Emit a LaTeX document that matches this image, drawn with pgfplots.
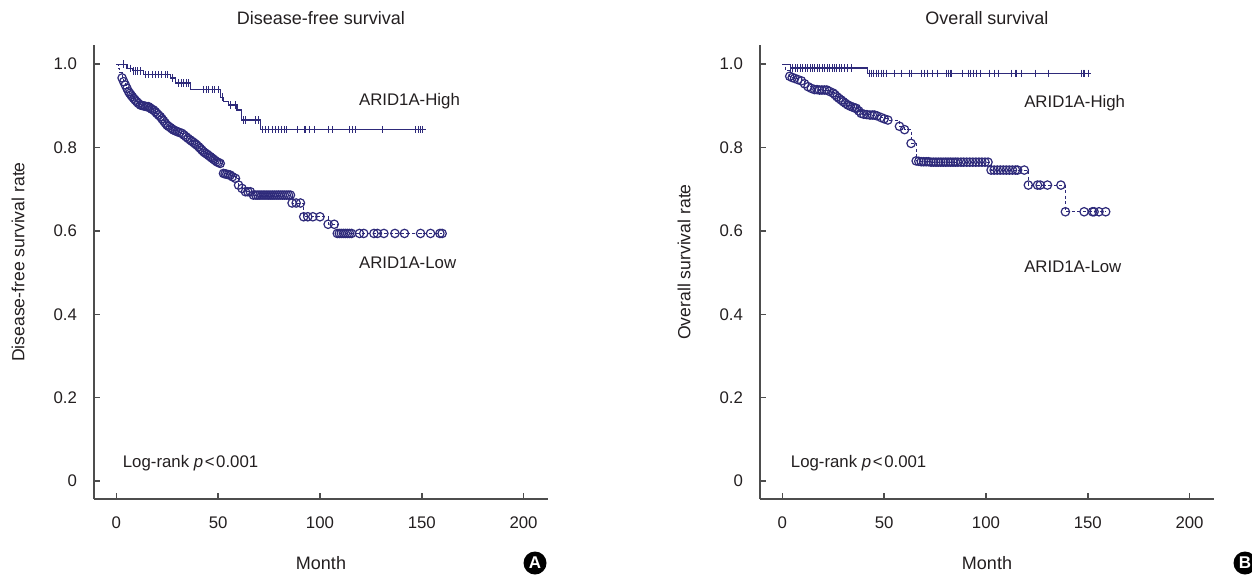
\documentclass[border=0pt]{standalone}
\usepackage{pgfplots}
\pgfplotsset{compat=1.18}
\usepackage{pgfplotstable}
\usepackage{fontspec}
\setmainfont{Liberation Sans}
\definecolor{curve}{RGB}{46,42,122}
\definecolor{axisgray}{RGB}{77,77,77}
\definecolor{txt}{RGB}{35,31,32}

% Panel A, ARID1A-Low (time, survival); rows 0-2 carry no censor mark
\pgfplotstableread{
t s
0 1.000
0.8 0.990
1.6 0.980
2.8 0.967
3.6 0.958
4.4 0.950
5.2 0.942
6.0 0.934
6.6 0.930
7.2 0.926
7.8 0.922
8.5 0.918
9.2 0.914
10.0 0.910
10.8 0.906
11.8 0.902
12.6 0.901
13.4 0.900
14.2 0.899
15.0 0.898
15.8 0.898
16.6 0.895
17.4 0.892
18.3 0.890
19.1 0.886
19.9 0.882
20.7 0.878
21.6 0.874
22.4 0.869
23.2 0.864
24.0 0.859
24.8 0.854
25.6 0.851
26.5 0.848
27.3 0.845
28.1 0.842
29.1 0.840
30.0 0.838
31.1 0.836
32.2 0.834
33.2 0.830
34.2 0.826
35.2 0.822
36.3 0.818
37.1 0.815
38.0 0.812
38.7 0.809
39.5 0.806
40.4 0.802
41.2 0.798
42.0 0.794
42.8 0.790
43.6 0.787
44.5 0.784
45.3 0.781
46.1 0.778
46.9 0.775
47.7 0.772
48.5 0.769
49.3 0.766
50.2 0.764
51.0 0.762
52.6 0.738
53.4 0.737
54.2 0.736
55.0 0.735
55.9 0.734
57.0 0.730
58.5 0.726
60.0 0.710
61.7 0.702
63.4 0.694
64.6 0.694
65.8 0.694
67.3 0.686
68.5 0.686
69.5 0.686
70.5 0.686
71.5 0.686
72.5 0.686
73.5 0.686
74.5 0.686
75.5 0.686
76.5 0.686
77.5 0.686
78.5 0.686
79.5 0.686
80.5 0.686
81.5 0.686
82.5 0.686
83.5 0.686
84.5 0.686
85.5 0.686
86.3 0.667
88.3 0.667
90.4 0.667
92.0 0.634
94.0 0.634
96.5 0.634
100.0 0.634
104.0 0.616
107.0 0.616
108.5 0.594
109.5 0.594
110.5 0.594
111.5 0.594
112.5 0.594
113.5 0.594
114.5 0.594
115.5 0.594
119.4 0.594
121.5 0.594
126.5 0.594
128.2 0.594
131.4 0.594
136.8 0.594
141.5 0.594
149.4 0.594
154.3 0.594
158.9 0.594
160.0 0.594
}\lowA

% Panel A, ARID1A-High step line
\pgfplotstableread{
t s
0 1.000
5.2 0.990
8.0 0.984
13.4 0.975
26.5 0.967
28.9 0.955
36.3 0.939
51.0 0.921
52.6 0.910
55.0 0.902
59.2 0.890
61.6 0.866
70.6 0.843
152.3 0.843
}\highA

% Panel A, ARID1A-High censor marks
\pgfplotstableread{
t s
3.6 1.000
6.9 0.990
8.2 0.984
9.3 0.984
10.5 0.984
11.8 0.984
14.3 0.975
15.9 0.975
17.5 0.975
19.2 0.975
20.8 0.975
22.4 0.975
24.1 0.975
25.2 0.975
27.4 0.967
30.6 0.955
31.8 0.955
33.1 0.955
34.4 0.955
35.5 0.955
42.9 0.939
44.2 0.939
45.4 0.939
47.0 0.939
48.2 0.939
50.3 0.939
51.9 0.921
56.0 0.902
58.5 0.902
62.6 0.866
63.4 0.866
68.3 0.866
69.9 0.866
71.6 0.843
73.2 0.843
74.8 0.843
76.5 0.843
78.1 0.843
79.8 0.843
81.2 0.843
82.4 0.843
83.7 0.843
88.9 0.843
92.2 0.843
93.1 0.843
94.8 0.843
97.2 0.843
104.4 0.843
106.0 0.843
114.7 0.843
116.0 0.843
117.3 0.843
130.7 0.843
147.1 0.843
148.2 0.843
149.4 0.843
150.6 0.843
}\highAc

% Panel B, ARID1A-Low; rows 0-1 carry no censor mark
\pgfplotstableread{
t s
0 1.000
1.5 0.985
3.6 0.971
4.8 0.968
6.0 0.966
7.6 0.963
9.3 0.960
10.9 0.953
12.6 0.946
14.2 0.942
15.8 0.939
17.0 0.939
18.2 0.938
19.4 0.938
20.6 0.938
21.8 0.938
23.0 0.935
24.8 0.931
25.8 0.927
26.8 0.922
27.8 0.918
28.9 0.914
29.9 0.910
31.0 0.906
32.2 0.902
33.4 0.899
34.6 0.897
35.5 0.895
36.3 0.894
37.5 0.888
38.7 0.882
40.0 0.880
41.5 0.879
43.0 0.878
44.2 0.878
45.2 0.878
46.5 0.876
48.5 0.872
50.0 0.869
51.8 0.866
57.5 0.851
60.0 0.843
63.2 0.810
65.7 0.768
67.0 0.767
68.2 0.766
69.4 0.766
70.6 0.766
71.8 0.766
73.0 0.765
74.2 0.765
75.4 0.765
76.6 0.765
77.8 0.765
79.0 0.765
80.2 0.765
81.4 0.765
82.6 0.765
83.8 0.765
85.0 0.765
86.2 0.765
87.7 0.765
89.0 0.765
90.5 0.765
92.0 0.765
93.5 0.765
95.0 0.765
96.5 0.765
98.0 0.765
99.5 0.765
101.0 0.765
102.5 0.746
104.0 0.746
105.5 0.746
107.0 0.746
108.5 0.746
110.0 0.746
111.5 0.746
113.0 0.746
114.5 0.746
115.5 0.746
118.8 0.746
120.8 0.710
125.3 0.710
126.6 0.710
130.2 0.710
136.8 0.710
139.0 0.646
148.2 0.646
152.3 0.646
153.1 0.646
155.5 0.646
158.8 0.646
}\lowB

% Panel B, ARID1A-High step line
\pgfplotstableread{
t s
0 1.000
4.0 0.991
41.7 0.978
151.8 0.978
}\highB

% Panel B, ARID1A-High censor marks
\pgfplotstableread{
t s
4.0 0.991
5.2 0.991
6.4 0.991
7.6 0.991
8.8 0.991
10.0 0.991
11.2 0.991
12.4 0.991
13.6 0.991
14.8 0.991
16.0 0.991
17.2 0.991
18.4 0.991
19.6 0.991
20.8 0.991
22.0 0.991
23.2 0.991
24.4 0.991
25.6 0.991
26.8 0.991
28.0 0.991
29.2 0.991
30.6 0.991
32.2 0.991
33.8 0.991
42.8 0.978
43.6 0.978
44.9 0.978
46.1 0.978
47.2 0.978
48.5 0.978
49.8 0.978
51.0 0.978
55.1 0.978
58.3 0.978
62.4 0.978
63.6 0.978
68.1 0.978
69.8 0.978
71.4 0.978
73.9 0.978
76.3 0.978
80.4 0.978
81.5 0.978
82.8 0.978
83.3 0.978
88.6 0.978
91.3 0.978
92.6 0.978
94.0 0.978
95.1 0.978
97.2 0.978
101.9 0.978
104.1 0.978
106.0 0.978
112.3 0.978
114.4 0.978
115.2 0.978
117.2 0.978
124.5 0.978
130.5 0.978
146.9 0.978
147.7 0.978
148.2 0.978
150.2 0.978
}\highBc

\pgfplotsset{
  kmaxis/.style={
    scale only axis, width=227pt, height=227pt,
    xmin=-11, xmax=212, ymin=-0.043, ymax=1.046,
    axis lines=left, axis line style={-, draw=axisgray, line width=0.75pt},
    tick style={draw=axisgray, line width=0.75pt},
    tick align=inside, major tick length=3pt,
    xtick={0,50,100,150,200}, xticklabels={0,50,100,150,200},
    ytick={0,0.2,0.4,0.6,0.8,1.0}, yticklabels={0,0.2,0.4,0.6,0.8,1.0},
    /pgf/number format/assume math mode=true,
    tick label style={text=txt},
    xticklabel style={yshift=-6pt},
    yticklabel style={xshift=-5.5pt},
    label style={text=txt},
    xlabel={Month},
    xlabel style={at={(axis description cs:0.5,-0.141)}, anchor=center, font=\fontsize{9pt}{10pt}\selectfont},
    ylabel style={at={(axis description cs:-0.167,0.522)}, anchor=center, font=\fontsize{8.8pt}{10pt}\selectfont},
    title style={text=txt, at={(axis description cs:0.5,1.033)}, anchor=center, font=\fontsize{9pt}{10pt}\selectfont},
    clip=false,
  },
  lowline/.style={const plot, no marks, draw=curve, line width=0.5pt, dash pattern=on 1.6pt off 1.2pt},
  lowmarks/.style={only marks, mark=o, mark size=2.1pt, draw=curve, mark options={draw=curve, line width=0.6pt, solid}},
  highline/.style={const plot, no marks, draw=curve, line width=0.6pt},
  highmarks/.style={only marks, mark=|, mark size=1.9pt, mark options={draw=curve, line width=0.5pt}},
}

\begin{document}
\fontsize{8.4pt}{10pt}\selectfont
\begin{tikzpicture}
\useasboundingbox (0,0) rectangle (626pt,287.5pt);

\begin{axis}[kmaxis, at={(47pt,38pt)}, anchor=south west,
  title={Disease-free survival}, ylabel={Disease-free survival rate}]
  \addplot[lowline] table[x=t,y=s] {\lowA};
  \addplot[lowmarks, skip coords between index={0}{3}] table[x=t,y=s] {\lowA};
  \addplot[highline] table[x=t,y=s] {\highA};
  \addplot[highmarks] table[x=t,y=s] {\highAc};
  \node[anchor=west, text=txt, inner sep=0pt] at (axis cs:119,0.911) {ARID1A-High};
  \node[anchor=west, text=txt, inner sep=0pt] at (axis cs:119,0.523) {ARID1A-Low};
  \node[anchor=west, text=txt, inner sep=0pt] at (axis cs:3,0.043) {Log-rank \textit{p}\kern0.8pt<\kern0.8pt0.001};
\end{axis}

\begin{axis}[kmaxis, at={(380pt,38pt)}, anchor=south west,
  title={Overall survival}, ylabel={Overall survival rate}]
  \addplot[lowline] table[x=t,y=s] {\lowB};
  \addplot[lowmarks, skip coords between index={0}{2}] table[x=t,y=s] {\lowB};
  \addplot[highline] table[x=t,y=s] {\highB};
  \addplot[highmarks] table[x=t,y=s] {\highBc};
  \node[anchor=west, text=txt, inner sep=0pt] at (axis cs:118.6,0.906) {ARID1A-High};
  \node[anchor=west, text=txt, inner sep=0pt] at (axis cs:118.6,0.515) {ARID1A-Low};
  \node[anchor=west, text=txt, inner sep=0pt] at (axis cs:4,0.043) {Log-rank \textit{p}\kern0.8pt<\kern0.8pt0.001};
\end{axis}

\node[circle, fill=black, text=white, inner sep=0pt, minimum size=11.5pt, font=\fontsize{8.5pt}{9pt}\selectfont\bfseries] at (267.5pt,6pt) {A};
\node[circle, fill=black, text=white, inner sep=0pt, minimum size=11.5pt, font=\fontsize{8.5pt}{9pt}\selectfont\bfseries] at (622.5pt,6pt) {B};
\end{tikzpicture}
\end{document}
